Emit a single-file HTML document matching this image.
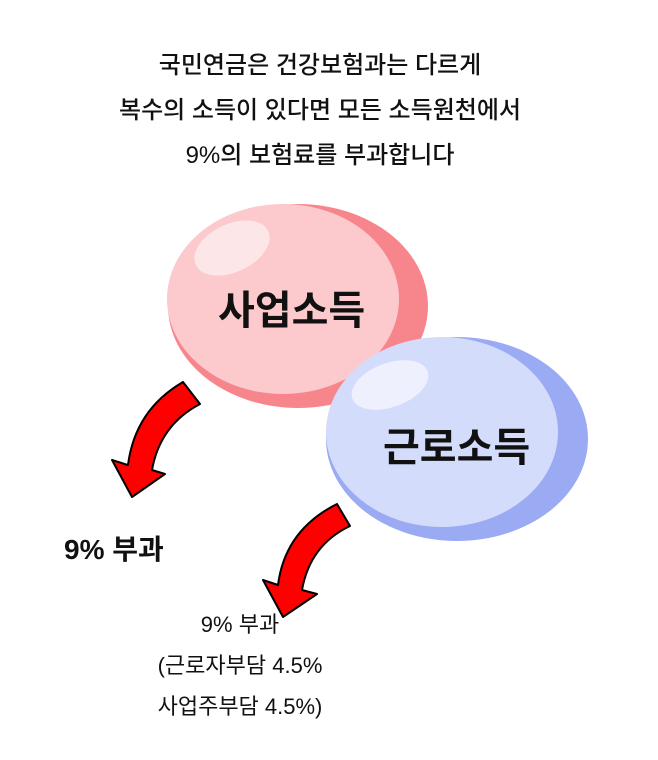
<!DOCTYPE html>
<html><head><meta charset="utf-8"><style>
body{margin:0;width:658px;height:760px;background:#fff;overflow:hidden;position:relative;font-family:"Liberation Sans","Noto Sans CJK KR",sans-serif;color:#111}
.t{position:absolute;white-space:nowrap}
</style></head><body>
<div class="t" style="left:0;width:640px;text-align:center;top:43px;font-size:24px;line-height:45px;font-weight:500">국민연금은 건강보험과는 다르게<br>복수의 소득이 있다면 모든 소득원천에서<br>9%의 보험료를 부과합니다</div>
<svg width="658" height="760" style="position:absolute;left:0;top:0">
<ellipse cx="298" cy="306" rx="130" ry="102" fill="#f7868c"/>
<ellipse cx="283" cy="299" rx="116" ry="95" fill="#fcc9cc"/>
<ellipse cx="232" cy="248" rx="40" ry="24" fill="#fde6e8" transform="rotate(-25 232 248)"/>
<ellipse cx="457" cy="439" rx="131" ry="102" fill="#9aaaf3"/>
<ellipse cx="442" cy="432" rx="116" ry="95" fill="#d4dcfb"/>
<ellipse cx="390" cy="385" rx="40" ry="22" fill="#eef1fd" transform="rotate(-20 390 385)"/>
<path d="M183 382 L200 404 Q160 425 152 470 L165 474 L132 497 L112 460 L128 465 Q135 410 183 382 Z" fill="#f00" stroke="#000" stroke-width="2" stroke-linejoin="round"/>
<path d="M337 504 L350 526 Q310 545 302 590 L317 594 L283 617 L263 580 L278 585 Q285 530 337 504 Z" fill="#f00" stroke="#000" stroke-width="2" stroke-linejoin="round"/>
</svg>
<div class="t" style="left:218px;top:278px;font-size:40px;font-weight:bold">사업소득</div>
<div class="t" style="left:383px;top:415px;font-size:40px;font-weight:bold">근로소득</div>
<div class="t" style="left:64px;top:528px;font-size:28px;font-weight:bold">9% 부과</div>
<div class="t" style="left:110px;width:260px;text-align:center;top:604px;font-size:22px;line-height:41px">9% 부과<br>(근로자부담 4.5%<br>사업주부담 4.5%)</div>
</body></html>
